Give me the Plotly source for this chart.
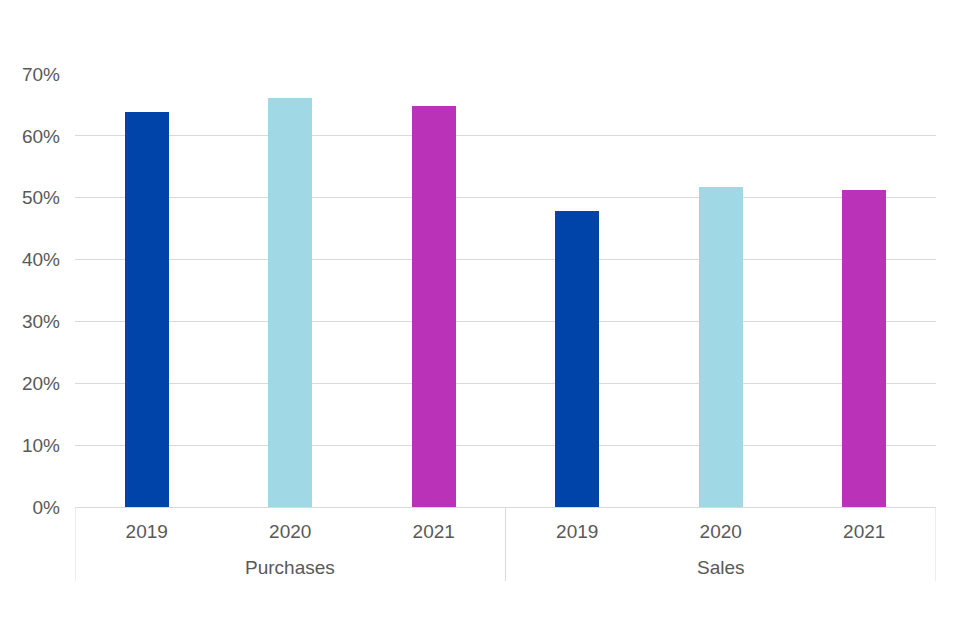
import plotly.graph_objects as go

groups = ["Purchases", "Purchases", "Purchases", "Sales", "Sales", "Sales"]
years = ["2019", "2020", "2021", "2019", "2020", "2021"]
values = [0.638, 0.661, 0.649, 0.479, 0.518, 0.512]
colors = ["#0044AA", "#A0D8E6", "#BA32B7", "#0044AA", "#A0D8E6", "#BA32B7"]

pos = list(range(len(values)))
LINE = "#D9D9D9"
TXT = "#595959"
FONT = "Liberation Sans, Arial, sans-serif"

fig = go.Figure(go.Bar(
    x=pos,
    y=values,
    marker=dict(color=colors, line=dict(width=0)),
    width=0.31,
    hovertext=[f"{g} {y}" for g, y in zip(groups, years)],
))

# group labels and dividers
group_names = list(dict.fromkeys(groups))
bounds = [-0.5]
for g in group_names:
    idx = [i for i, gg in enumerate(groups) if gg == g]
    fig.add_annotation(
        x=sum(idx) / len(idx), xref="x", y=0, yref="paper",
        text=g, showarrow=False, yanchor="middle", yshift=-60,
        font=dict(family=FONT, size=19, color=TXT),
    )
    bounds.append(max(idx) + 0.5)
for b in bounds:
    fig.add_shape(type="line", xref="x", yref="paper",
                  x0=b, x1=b, y0=0, y1=-74 / 433,
                  line=dict(color=LINE, width=1))

fig.update_layout(
    width=960, height=640,
    margin=dict(l=67, r=32, t=66, b=141),
    paper_bgcolor="white", plot_bgcolor="white",
    font=dict(family=FONT, size=19, color=TXT),
    showlegend=False,
    bargap=0,
)
fig.update_yaxes(
    range=[0, 0.7], dtick=0.1, tickformat=".0%",
    showgrid=True, gridcolor=LINE, gridwidth=1,
    zeroline=False, showline=False, ticks="", ticklabelstandoff=14,
)
fig.update_xaxes(
    range=[-0.5, len(values) - 0.5],
    tickmode="array", tickvals=pos, ticktext=years,
    showline=True, linecolor=LINE, linewidth=1,
    ticks="", showgrid=False, zeroline=False, ticklabelstandoff=7,
)
fig.write_html("out.html")
